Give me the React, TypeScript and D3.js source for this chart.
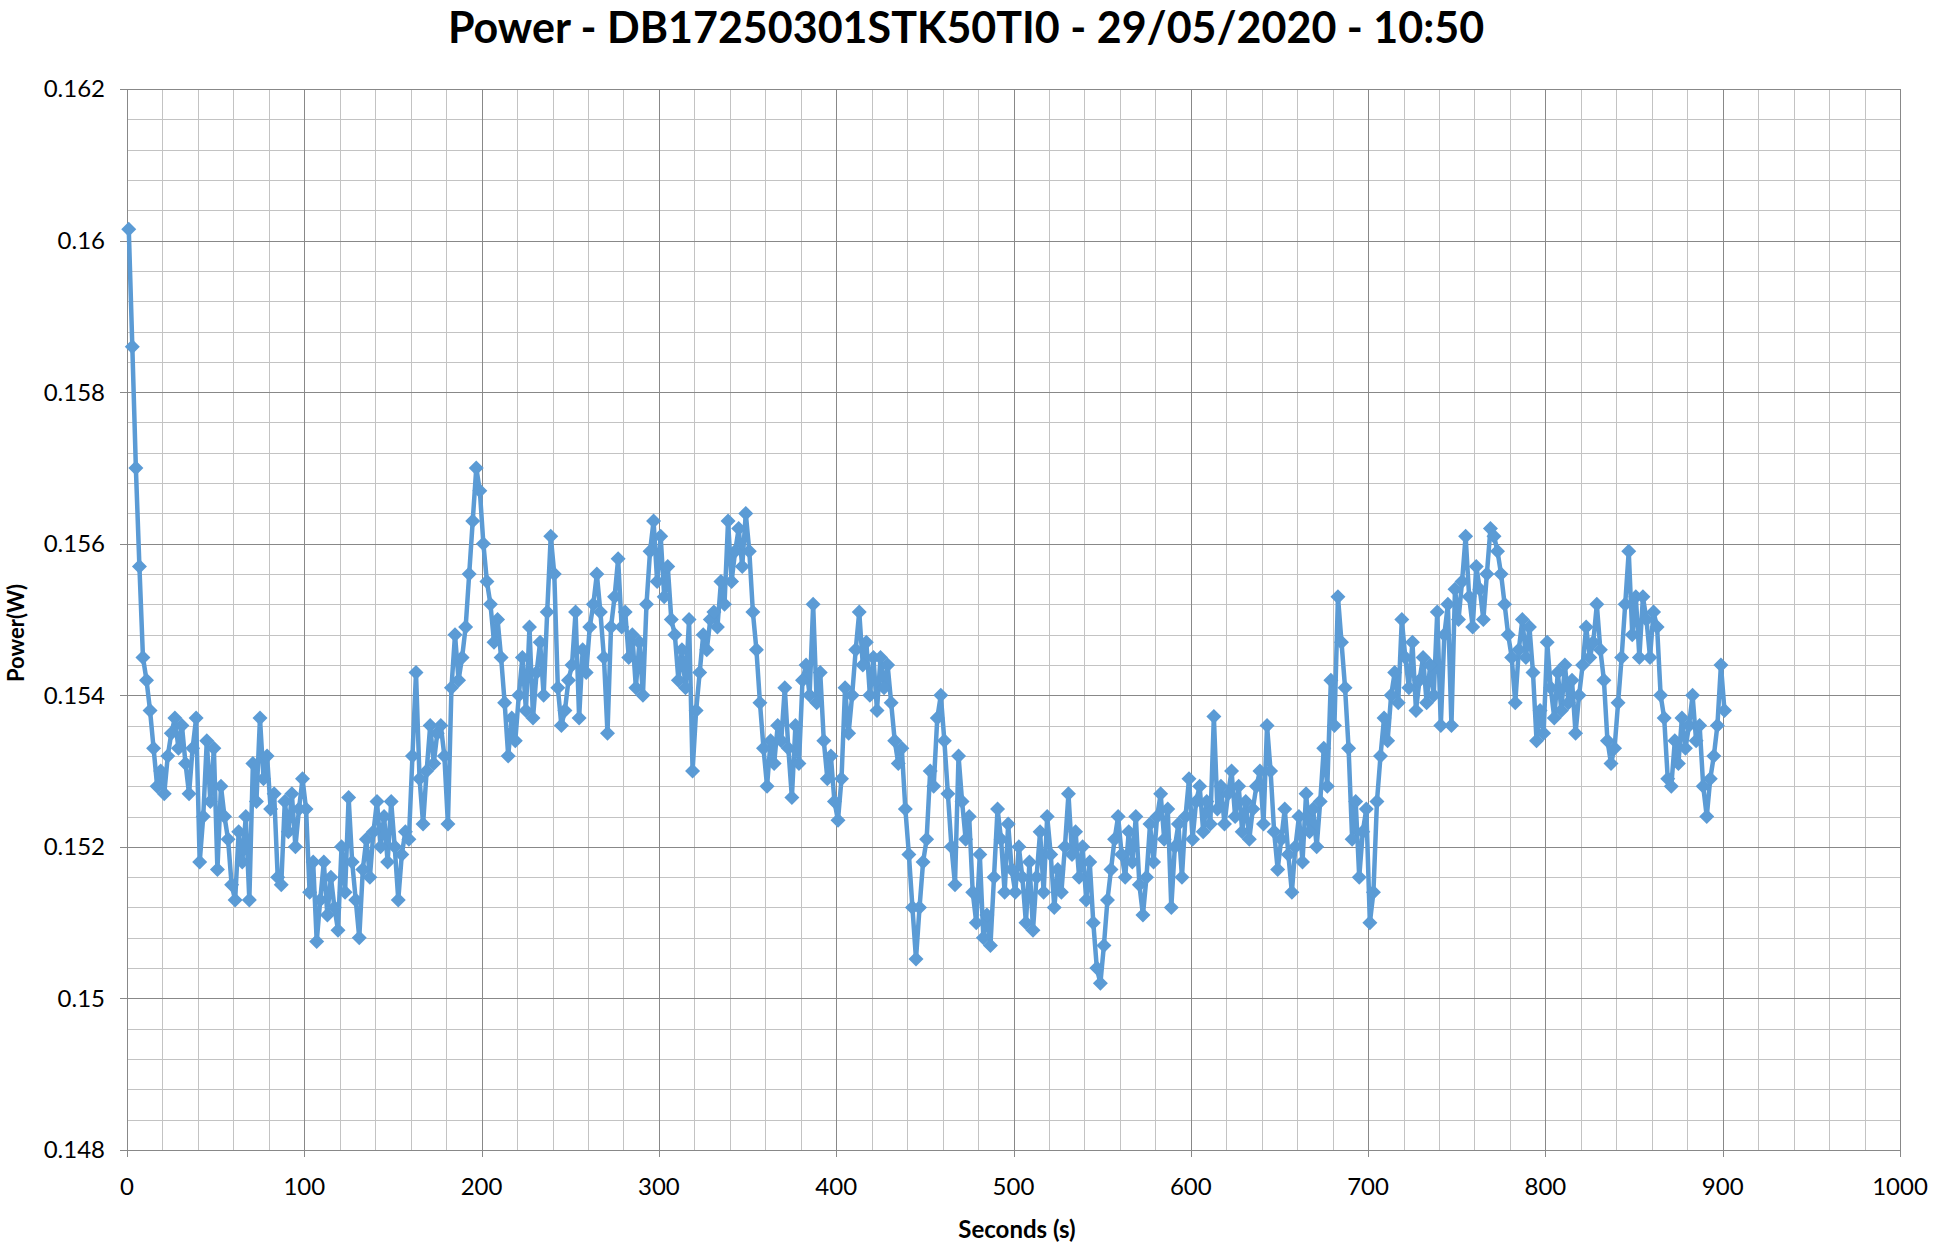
import * as d3 from 'd3';

// power readings (W), one every 2 s starting at t = 1 s
const power = [
    0.16015, 0.1586, 0.157, 0.1557, 0.1545, 0.1542, 0.1538, 0.1533, 0.1528, 0.153,
    0.1527, 0.1532, 0.1535, 0.1537, 0.1533, 0.1536, 0.1531, 0.1527, 0.1533, 0.1537,
    0.1518, 0.1524, 0.1534, 0.1526, 0.1533, 0.1517, 0.1528, 0.1524, 0.1521, 0.1515,
    0.1513, 0.1522, 0.1518, 0.1524, 0.1513, 0.1531, 0.1526, 0.1537, 0.1529, 0.1532,
    0.1525, 0.1527, 0.1516, 0.1515, 0.1526, 0.1522, 0.1527, 0.152, 0.1525, 0.1529,
    0.1525, 0.1514, 0.1518, 0.15075, 0.1513, 0.1518, 0.1511, 0.1516, 0.1512, 0.1509,
    0.152, 0.1514, 0.15265, 0.1518, 0.1513, 0.1508, 0.1517, 0.1521, 0.1516, 0.1522,
    0.1526, 0.152, 0.1524, 0.1518, 0.1526, 0.152, 0.1513, 0.1519, 0.1522, 0.1521,
    0.1532, 0.1543, 0.1529, 0.1523, 0.153, 0.1536, 0.1531, 0.1535, 0.1536, 0.1532,
    0.1523, 0.1541, 0.1548, 0.1542, 0.1545, 0.1549, 0.1556, 0.1563, 0.157, 0.1567,
    0.156, 0.1555, 0.1552, 0.1547, 0.155, 0.1545, 0.1539, 0.1532, 0.1537, 0.1534,
    0.154, 0.1545, 0.1538, 0.1549, 0.1537, 0.1543, 0.1547, 0.154, 0.1551, 0.1561,
    0.1556, 0.1541, 0.1536, 0.1538, 0.1542, 0.1544, 0.1551, 0.1537, 0.1546, 0.1543,
    0.1549, 0.1552, 0.1556, 0.1551, 0.1545, 0.1535, 0.1549, 0.1553, 0.1558, 0.1549,
    0.1551, 0.1545, 0.1548, 0.1541, 0.1547, 0.154, 0.1552, 0.1559, 0.1563, 0.1555,
    0.1561, 0.1553, 0.1557, 0.155, 0.1548, 0.1542, 0.1546, 0.1541, 0.155, 0.153,
    0.1538, 0.1543, 0.1548, 0.1546, 0.155, 0.1551, 0.1549, 0.1555, 0.1552, 0.1563,
    0.1555, 0.1559, 0.1562, 0.1557, 0.1564, 0.1559, 0.1551, 0.1546, 0.1539, 0.1533,
    0.1528, 0.1534, 0.1531, 0.1536, 0.1534, 0.1541, 0.1533, 0.15265, 0.1536, 0.1531,
    0.1542, 0.1544, 0.154, 0.1552, 0.1539, 0.1543, 0.1534, 0.1529, 0.1532, 0.1526,
    0.15235, 0.1529, 0.1541, 0.1535, 0.154, 0.1546, 0.1551, 0.1544, 0.1547, 0.154,
    0.1545, 0.1538, 0.1545, 0.1541, 0.1544, 0.1539, 0.1534, 0.1531, 0.1533, 0.1525,
    0.1519, 0.1512, 0.15052, 0.1512, 0.1518, 0.1521, 0.153, 0.1528, 0.1537, 0.154,
    0.1534, 0.1527, 0.152, 0.1515, 0.1532, 0.1526, 0.1521, 0.1524, 0.1514, 0.151,
    0.1519, 0.1508, 0.1511, 0.1507, 0.1516, 0.1525, 0.1521, 0.1514, 0.1523, 0.1517,
    0.1514, 0.152, 0.1516, 0.151, 0.1518, 0.1509, 0.1516, 0.1522, 0.1514, 0.1524,
    0.1519, 0.1512, 0.1517, 0.1514, 0.152, 0.1527, 0.1519, 0.1522, 0.1516, 0.152,
    0.1513, 0.1518, 0.151, 0.1504, 0.1502, 0.1507, 0.1513, 0.1517, 0.1521, 0.1524,
    0.1519, 0.1516, 0.1522, 0.1518, 0.1524, 0.1515, 0.1511, 0.1516, 0.1523, 0.1518,
    0.1524, 0.1527, 0.1521, 0.1525, 0.1512, 0.152, 0.1523, 0.1516, 0.1524, 0.1529,
    0.1521, 0.1526, 0.1528, 0.1522, 0.1526, 0.1523, 0.15372, 0.1525, 0.1528, 0.1523,
    0.1527, 0.153, 0.1524, 0.1528, 0.1522, 0.1526, 0.1521, 0.1525, 0.1528, 0.153,
    0.1523, 0.1536, 0.153, 0.1522, 0.1517, 0.1521, 0.1525, 0.1519, 0.1514, 0.152,
    0.1524, 0.1518, 0.1527, 0.1522, 0.1525, 0.152, 0.1526, 0.1533, 0.1528, 0.1542,
    0.1536, 0.1553, 0.1547, 0.1541, 0.1533, 0.1521, 0.1526, 0.1516, 0.1522, 0.1525,
    0.151, 0.1514, 0.1526, 0.1532, 0.1537, 0.1534, 0.154, 0.1543, 0.1539, 0.155,
    0.1545, 0.1541, 0.1547, 0.1538, 0.1542, 0.1545, 0.1539, 0.1544, 0.154, 0.1551,
    0.1536, 0.1548, 0.1552, 0.1536, 0.1554, 0.155, 0.1555, 0.1561, 0.1553, 0.1549,
    0.1557, 0.1554, 0.155, 0.1556, 0.1562, 0.1561, 0.1559, 0.1556, 0.1552, 0.1548,
    0.1545, 0.1539, 0.1546, 0.155, 0.1545, 0.1549, 0.1543, 0.1534, 0.1538, 0.1535,
    0.1547, 0.1541, 0.1537, 0.1543, 0.1538, 0.1544, 0.1539, 0.1542, 0.1535, 0.154,
    0.1544, 0.1549, 0.1545, 0.1547, 0.1552, 0.1546, 0.1542, 0.1534, 0.1531, 0.1533,
    0.1539, 0.1545, 0.1552, 0.1559, 0.1548, 0.1553, 0.1545, 0.1553, 0.155, 0.1545,
    0.1551, 0.1549, 0.154, 0.1537, 0.1529, 0.1528, 0.1534, 0.1531, 0.1537, 0.1533,
    0.1536, 0.154, 0.1534, 0.1536, 0.1528, 0.1524, 0.1529, 0.1532, 0.1536, 0.1544,
    0.1538,
];
const sampleStart = 1;
const samplePeriod = 2;
const seconds = power.map((_, i) => sampleStart + i * samplePeriod);

const title = 'Power - DB17250301STK50TI0 - 29/05/2020 - 10:50';
const xTitle = 'Seconds (s)';
const yTitle = 'Power(W)';
const xTicks = [0, 100, 200, 300, 400, 500, 600, 700, 800, 900, 1000];
const yTicks = [0.148, 0.15, 0.152, 0.154, 0.156, 0.158, 0.16, 0.162];
const yTickLabels = ['0.148', '0.15', '0.152', '0.154', '0.156', '0.158', '0.16', '0.162'];

const W = 1939;
const H = 1247;
const margin = { top: 89, right: 39, bottom: 97, left: 127 };
const font = "Lato, 'Open Sans', sans-serif";
const blue = '#5B9BD5';

export default function App() {
    const x = d3.scaleLinear().domain([0, 1000]).range([margin.left, W - margin.right]);
    const y = d3.scaleLinear().domain([0.148, 0.162]).range([H - margin.bottom, margin.top]);

    const xMinor = d3.range(0, 1001, 20);
    const yMinor = d3.range(0, 36).map((i) => 0.148 + i * 0.0004);

    const line = d3
        .line<number>()
        .x((_, i) => x(seconds[i]))
        .y((d) => y(d));

    const r = 7.5;
    const diamond = `M0,${-r}L${r},0L0,${r}L${-r},0Z`;
    const px = (v: number) => Math.round(v) + 0.5;

    return (
        <svg
            width={W}
            height={H}
            style={{ position: 'fixed', left: 0, top: 0, background: '#fff' }}
            fontFamily={font}
        >
            <rect width={W} height={H} fill="#fff" />
            <text x={966} y={43} textAnchor="middle" fontSize={43} fontWeight="bold" fill="#000">
                {title}
            </text>

            <g shapeRendering="crispEdges">
                {xMinor.map((d) => (
                    <line key={'xm' + d} x1={px(x(d))} x2={px(x(d))} y1={y(0.162)} y2={y(0.148)} stroke="#c3c3c3" />
                ))}
                {yMinor.map((d, i) => (
                    <line key={'ym' + i} x1={x(0)} x2={x(1000)} y1={px(y(d))} y2={px(y(d))} stroke="#c3c3c3" />
                ))}
                {xTicks.map((d) => (
                    <line key={'xM' + d} x1={px(x(d))} x2={px(x(d))} y1={y(0.162)} y2={y(0.148) + 7} stroke="#888" />
                ))}
                {yTicks.map((d) => (
                    <line key={'yM' + d} x1={x(0) - 7} x2={x(1000)} y1={px(y(d))} y2={px(y(d))} stroke="#888" />
                ))}
            </g>

            {xTicks.map((d) => (
                <text key={'xt' + d} x={x(d)} y={y(0.148) + 45} textAnchor="middle" fontSize={24} fill="#000">
                    {d}
                </text>
            ))}
            {yTicks.map((d, i) => (
                <text key={'yt' + d} x={x(0) - 22} y={y(d)} dy="0.35em" textAnchor="end" fontSize={24} fill="#000">
                    {yTickLabels[i]}
                </text>
            ))}

            <path d={line(power) || ''} fill="none" stroke={blue} strokeWidth={4.5} strokeLinejoin="round" />
            <g fill={blue}>
                {power.map((d, i) => (
                    <path key={i} d={diamond} transform={`translate(${x(seconds[i])},${y(d)})`} />
                ))}
            </g>

            <text x={1017} y={1238} textAnchor="middle" fontSize={24} fontWeight="bold" fill="#000">
                {xTitle}
            </text>
            <text
                transform="translate(24,633) rotate(-90)"
                textAnchor="middle"
                fontSize={22}
                fontWeight="bold"
                fill="#000"
            >
                {yTitle}
            </text>
        </svg>
    );
}
